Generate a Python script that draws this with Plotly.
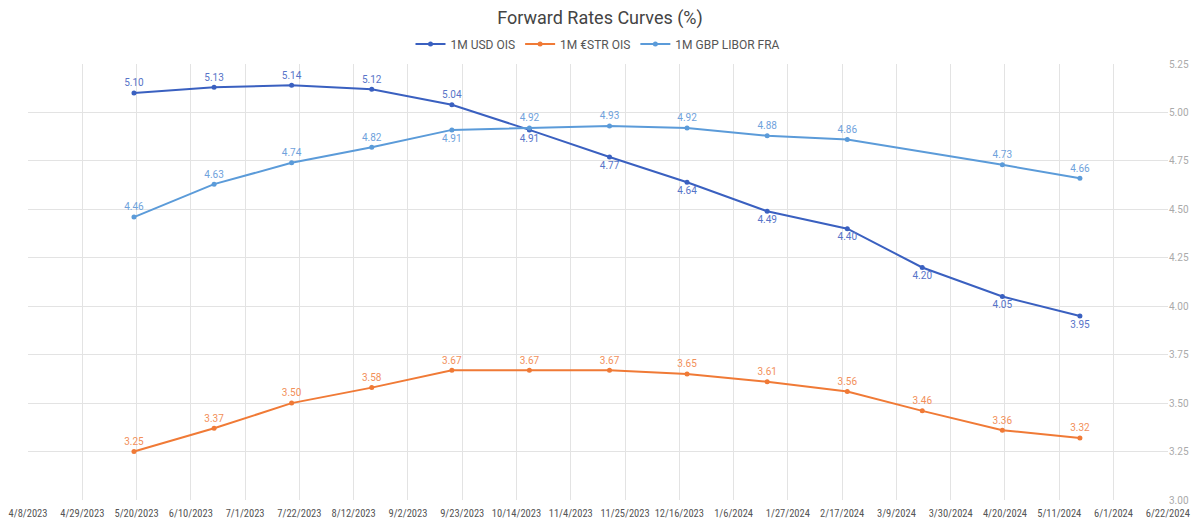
import plotly.graph_objects as go

dates = ["2023-05-19", "2023-06-19", "2023-07-19", "2023-08-19", "2023-09-19",
         "2023-10-19", "2023-11-19", "2023-12-19", "2024-01-19", "2024-02-19",
         "2024-03-19", "2024-04-19", "2024-05-19"]
usd_ois = [5.10, 5.13, 5.14, 5.12, 5.04, 4.91, 4.77, 4.64, 4.49, 4.40, 4.20, 4.05, 3.95]
estr_ois = [3.25, 3.37, 3.50, 3.58, 3.67, 3.67, 3.67, 3.65, 3.61, 3.56, 3.46, 3.36, 3.32]
gbp_fra = [4.46, 4.63, 4.74, 4.82, 4.91, 4.92, 4.93, 4.92, 4.88, 4.86, None, 4.73, 4.66]

usd_pos = ["top center"] * 5 + ["bottom center"] * 8
estr_pos = ["top center"] * 13
gbp_pos = ["top center"] * 4 + ["bottom center"] + ["top center"] * 8

FONT = "Roboto, 'DejaVu Sans', sans-serif"
NARROW = "'Liberation Sans Narrow', 'Roboto Condensed', Roboto, sans-serif"

def fmt(vals):
    return [("" if v is None else f"{v:.2f}") for v in vals]

fig = go.Figure()
series = [
    ("1M USD OIS", usd_ois, usd_pos, "#3A60C0", "#5774C8"),
    ("1M €STR OIS", estr_ois, estr_pos, "#F07A36", "#F2905A"),
    ("1M GBP LIBOR FRA", gbp_fra, gbp_pos, "#5B9BD9", "#6FA2DC"),
]
for name, vals, pos, col, tcol in series:
    fig.add_trace(go.Scatter(
        x=dates, y=vals, name=name, mode="lines+markers+text",
        text=fmt(vals), textposition=pos,
        textfont=dict(family=FONT, size=10, color=tcol),
        line=dict(color=col, width=2),
        marker=dict(color=col, size=5),
        connectgaps=True,
        cliponaxis=False,
    ))

fig.update_layout(
    width=1200, height=523,
    paper_bgcolor="white", plot_bgcolor="white",
    margin=dict(l=28, r=32, t=64, b=23, autoexpand=False),
    font=dict(family=FONT, color="#555"),
    title=dict(text="Forward Rates Curves (%)", x=0.5, xanchor="center",
               y=1 - 18 / 523, yanchor="middle", yref="container",
               font=dict(family=FONT, size=18, color="#444")),
    legend=dict(orientation="h", x=0.5, xanchor="center",
                y=1 - 44 / 523, yanchor="middle", yref="container",
                font=dict(family=FONT, size=12, color="#555"),
                itemwidth=30, tracegroupgap=0),
    showlegend=True,
)
fig.update_xaxes(
    type="date", range=["2023-04-08", "2024-06-22 02:00"],
    tick0="2023-04-08", dtick=21 * 86400000, tickformat="%-m/%-d/%Y",
    tickangle=0, automargin=False, ticklabelstandoff=5,
    showgrid=True, gridcolor="#E3E3E3", gridwidth=1,
    zeroline=False, showline=False, ticks="",
    tickfont=dict(family=NARROW, size=10.5, color="#555"),
)
fig.update_yaxes(
    side="right", range=[3, 5.25], dtick=0.25, tick0=3, tickformat=".2f",
    automargin=False,
    showgrid=True, gridcolor="#E3E3E3", gridwidth=1,
    zeroline=False, showline=False, ticks="",
    tickfont=dict(family=FONT, size=10, color="#AAAAAA"),
)
fig.write_html("out.html")
